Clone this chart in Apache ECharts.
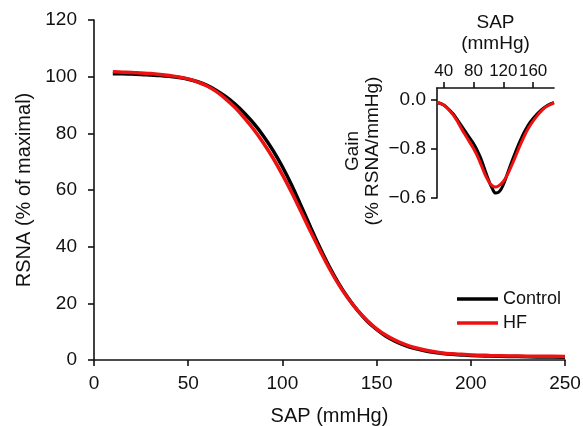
<!DOCTYPE html>
<html>
<head>
<meta charset="utf-8">
<script src="https://cdn.jsdelivr.net/npm/echarts@6/dist/echarts.min.js"></script>
<style>
html,body{margin:0;padding:0;background:#fff;}
#chart{width:583px;height:426px;}
</style>
</head>
<body>
<div id="chart"></div>
<script>
// Main panel data: SAP (mmHg) vs RSNA (% of maximal)
var mainSAP = [10,15,20,25,30,35,40,45,50,55,60,65,70,75,80,85,90,95,100,105,110,115,120,125,130,135,140,145,150,155,160,165,170,175,180,185,190,195,200,210,220,230,240,250];
var controlRSNA = [101.0,101.0,100.9,100.8,100.6,100.4,100.1,99.7,99.1,98.2,96.9,95.1,92.9,90.2,87.0,83.3,79.0,74.0,68.2,61.6,54.3,46.8,39.5,32.8,26.9,21.8,17.4,13.7,10.8,8.4,6.6,5.2,4.1,3.3,2.7,2.3,2.0,1.8,1.6,1.4,1.25,1.15,1.05,1.0];
var hfRSNA = [101.7,101.6,101.5,101.3,101.1,100.8,100.4,99.9,99.2,98.1,96.7,94.7,92.1,89.0,85.3,81.2,76.5,71.3,65.4,59.0,52.2,45.3,38.6,32.2,26.5,21.6,17.4,13.9,11.0,8.7,6.9,5.5,4.4,3.6,3.0,2.5,2.2,2.0,1.8,1.6,1.45,1.35,1.3,1.25];

// Inset data: SAP vs Gain (% RSNA/mmHg)
var insetSAP = [31,35,40,45,50,55,60,65,70,75,80,85,90,95,100,105,110,115,120,125,130,135,140,145,150,155,160,165,170,175,180,185,188];
var controlGain = [-0.04,-0.05,-0.08,-0.13,-0.19,-0.26,-0.35,-0.44,-0.53,-0.62,-0.71,-0.82,-0.96,-1.13,-1.30,-1.44,-1.52,-1.49,-1.38,-1.22,-1.05,-0.89,-0.74,-0.60,-0.48,-0.38,-0.30,-0.23,-0.17,-0.12,-0.08,-0.05,-0.04];
var hfGain = [-0.03,-0.05,-0.08,-0.13,-0.20,-0.28,-0.38,-0.49,-0.59,-0.69,-0.79,-0.91,-1.05,-1.20,-1.32,-1.40,-1.42,-1.39,-1.33,-1.23,-1.10,-0.96,-0.81,-0.67,-0.54,-0.43,-0.34,-0.26,-0.19,-0.13,-0.09,-0.06,-0.04];

// Tick labels
var insetXTicks = [40,80,120,160];
var insetYTickValues = [0,-0.8,-1.6];
var insetYTickLabels = ['0.0','\u22120.8','\u22120.6'];

function pairs(xs, ys){ return xs.map(function(x,i){ return [x, ys[i]]; }); }

var FONT = 'Liberation Sans, Arial, Helvetica, sans-serif';
var TXT = '#111';
var BLACK = '#000000';
var RED = '#ee1111';
var axisLine = {show:true, onZero:false, lineStyle:{color:'#111', width:1.6}};
var axisTick = {show:true, inside:false, length:6, lineStyle:{color:'#111', width:1.6}};

var chart = echarts.init(document.getElementById('chart'), null, {renderer:'canvas'});
chart.setOption({
  animation:false,
  backgroundColor:'#fff',
  textStyle:{fontFamily:FONT},
  legend:{
    data:['Control','HF'],
    orient:'vertical',
    left:452, top:285,
    icon:'rect', itemWidth:41, itemHeight:3.5, itemGap:6,
    textStyle:{fontFamily:FONT, fontSize:18, color:TXT}
  },
  grid:[
    {left:94, right:18, top:20, bottom:66, containLabel:false, outerBoundsMode:'none'},
    {left:437, right:29, top:88, bottom:228, containLabel:false, outerBoundsMode:'none'}
  ],
  xAxis:[
    {gridIndex:0, type:'value', min:0, max:250, interval:50,
     name:'SAP (mmHg)', nameLocation:'middle', nameGap:46,
     nameTextStyle:{fontFamily:FONT, fontSize:20, color:TXT},
     axisLine:axisLine, axisTick:axisTick, splitLine:{show:false},
     axisLabel:{fontFamily:FONT, fontSize:19, color:TXT, margin:14, hideOverlap:false}},
    {gridIndex:1, type:'value', position:'top', min:31, max:188,
     name:'SAP\n(mmHg)', nameLocation:'middle', nameGap:34,
     nameTextStyle:{fontFamily:FONT, fontSize:19, color:TXT, lineHeight:21},
     axisLine:axisLine,
     axisTick:{show:true, inside:false, length:6, lineStyle:{color:'#111', width:1.6}, customValues:insetXTicks},
     splitLine:{show:false},
     axisLabel:{fontFamily:FONT, fontSize:17, color:TXT, margin:8, hideOverlap:false, customValues:insetXTicks}}
  ],
  yAxis:[
    {gridIndex:0, type:'value', min:0, max:120, interval:20,
     name:'RSNA (% of maximal)', nameLocation:'middle', nameGap:59,
     nameTextStyle:{fontFamily:FONT, fontSize:20, color:TXT},
     axisLine:axisLine, axisTick:axisTick, splitLine:{show:false},
     axisLabel:{fontFamily:FONT, fontSize:19, color:TXT, margin:17, hideOverlap:false}},
    {gridIndex:1, type:'value', min:-1.6, max:0.2,
     name:'Gain\n(% RSNA/mmHg)', nameLocation:'middle', nameGap:54,
     nameTextStyle:{fontFamily:FONT, fontSize:19, color:TXT, lineHeight:20, padding:[0,16,0,0]},
     axisLine:axisLine,
     axisTick:{show:true, inside:false, length:6, lineStyle:{color:'#111', width:1.6}, customValues:insetYTickValues},
     splitLine:{show:false},
     axisLabel:{fontFamily:FONT, fontSize:19, color:TXT, margin:11, hideOverlap:false, customValues:insetYTickValues,
       formatter:function(v){
         for (var i=0;i<insetYTickValues.length;i++){ if (Math.abs(v-insetYTickValues[i])<1e-6) return insetYTickLabels[i]; }
         return '';
       }}}
  ],
  series:[
    {name:'Control', type:'line', xAxisIndex:0, yAxisIndex:0, data:pairs(mainSAP, controlRSNA),
     showSymbol:false, smooth:0.4, color:BLACK, lineStyle:{color:BLACK, width:3.5}, itemStyle:{color:BLACK}},
    {name:'HF', type:'line', xAxisIndex:0, yAxisIndex:0, data:pairs(mainSAP, hfRSNA),
     showSymbol:false, smooth:0.4, color:RED, lineStyle:{color:RED, width:3.5}, itemStyle:{color:RED}},
    {name:'Control gain', type:'line', xAxisIndex:1, yAxisIndex:1, data:pairs(insetSAP, controlGain),
     showSymbol:false, smooth:0.5, color:BLACK, lineStyle:{color:BLACK, width:3}},
    {name:'HF gain', type:'line', xAxisIndex:1, yAxisIndex:1, data:pairs(insetSAP, hfGain),
     showSymbol:false, smooth:0.5, color:RED, lineStyle:{color:RED, width:3}}
  ]
});
</script>
</body>
</html>
